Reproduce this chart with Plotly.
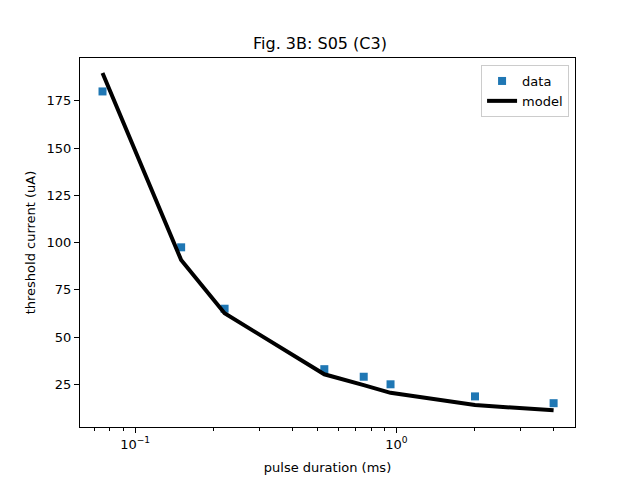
import plotly.graph_objects as go
import math

# data
data_x = [0.075, 0.15, 0.22, 0.53, 0.75, 0.95, 2.0, 4.0]
data_y = [180, 97.5, 65, 33, 29, 25, 18.6, 15]
model_x = [0.075, 0.15, 0.22, 0.53, 0.75, 0.95, 2.0, 4.0]
model_y = [189.8, 90.8, 62.6, 30.3, 24.6, 20.5, 14.0, 11.2]
y_ticks = [25, 50, 75, 100, 125, 150, 175]
x_major = [0.1, 1.0]
x_major_text = ["10<sup>\u22121</sup>", "10<sup>0</sup>"]
x_minor = [0.07, 0.08, 0.09, 0.2, 0.3, 0.4, 0.5, 0.6, 0.7, 0.8, 0.9, 2, 3, 4]

font = "DejaVu Sans"

fig = go.Figure()
fig.add_trace(go.Scatter(
    x=data_x, y=data_y, mode="markers", name="data",
    marker=dict(symbol="square", size=8, color="#1f77b4"),
))
fig.add_trace(go.Scatter(
    x=model_x, y=model_y, mode="lines", name="model",
    line=dict(color="black", width=4),
))

fig.update_layout(
    width=640, height=480,
    margin=dict(l=80, r=65, t=58, b=53),
    paper_bgcolor="white", plot_bgcolor="white",
    font=dict(family=font, size=13, color="black"),
    title=dict(text="Fig. 3B: S05 (C3)", x=0.5, xanchor="center",
               y=1 - 43 / 480, yanchor="middle",
               font=dict(family=font, size=16, color="black")),
    showlegend=True,
    legend=dict(x=0.988, y=0.981, xanchor="right", yanchor="top",
                bordercolor="#cccccc", borderwidth=1, bgcolor="rgba(255,255,255,0.8)",
                font=dict(family=font, size=13, color="black"),
                itemwidth=30, tracegroupgap=0),
)

fig.update_xaxes(
    type="log", automargin=False,
    range=[math.log10(0.0615), math.log10(4.83)],
    tickmode="array", tickvals=x_major, ticktext=x_major_text,
    ticks="outside", ticklen=5, tickwidth=1, tickcolor="black",
    showline=True, linecolor="black", linewidth=1, mirror=True,
    showgrid=False, zeroline=False,
    minor=dict(tickmode="array", tickvals=x_minor, ticks="outside",
               ticklen=3, tickwidth=1, tickcolor="black", showgrid=False),
    title=dict(text="pulse duration (ms)", font=dict(family=font, size=13), standoff=12),
    tickfont=dict(family=font, size=13),
)
fig.update_yaxes(
    automargin=False,
    range=[2.4, 197.7],
    tickmode="array", tickvals=y_ticks,
    ticks="outside", ticklen=5, tickwidth=1, tickcolor="black",
    showline=True, linecolor="black", linewidth=1, mirror=True,
    showgrid=False, zeroline=False,
    title=dict(text="threshold current (uA)", font=dict(family=font, size=13), standoff=8),
    tickfont=dict(family=font, size=13),
)

fig.write_html("out.html")
